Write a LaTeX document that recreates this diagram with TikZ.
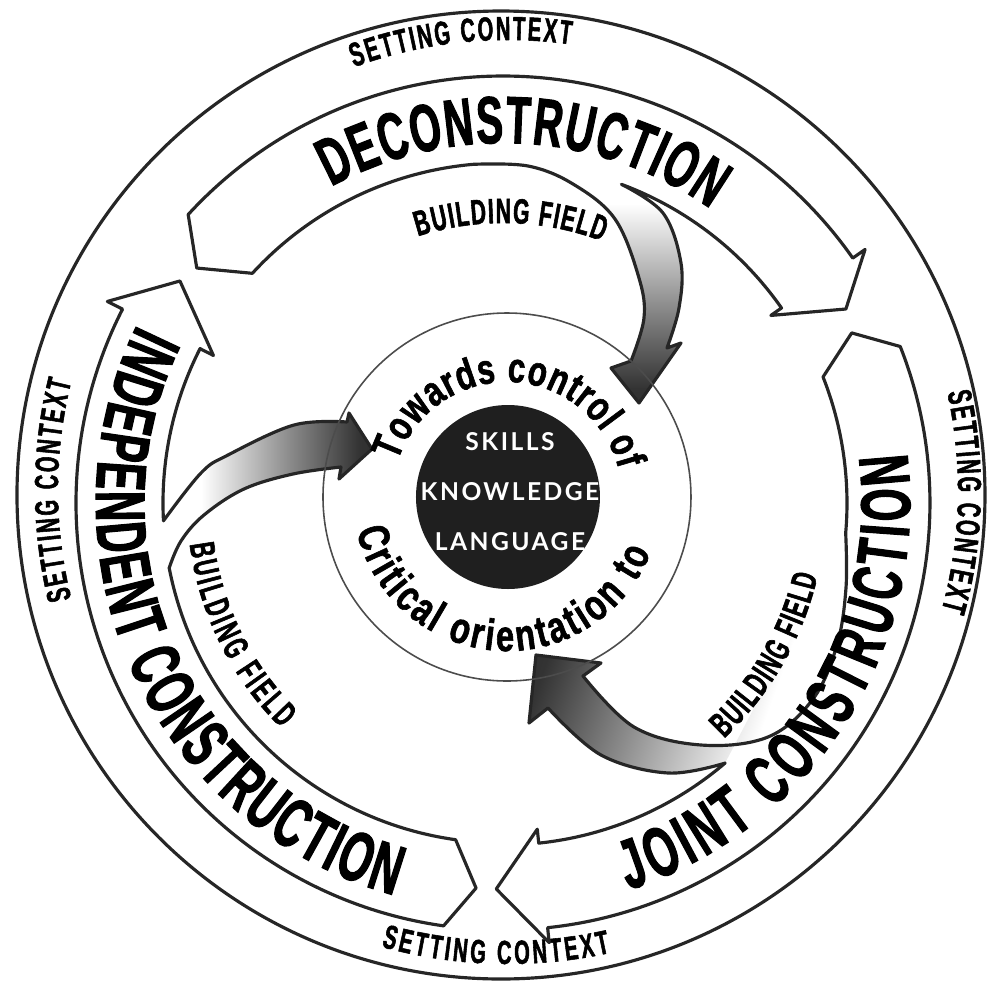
\documentclass[tikz,border=0pt]{standalone}
\usepackage{fontspec}
\usetikzlibrary{decorations.text}
\newfontfamily\bandfont{Liberation Sans Bold}[FakeStretch=0.6, FakeBold=1.6]
\newfontfamily\ringfont{Liberation Sans Bold}[FakeStretch=0.74, FakeBold=1.4]
\newfontfamily\corefont{Lato}[LetterSpace=10]
\pgfdeclarehorizontalshading{hornfade}{100bp}{color(0bp)=(white); color(34bp)=(white); color(55bp)=(black!45); color(72bp)=(black!80); color(100bp)=(black!90)}
\begin{document}
\begin{tikzpicture}[
    ring/.style={line width=0.9pt, draw=black!85, line join=round},
    thinring/.style={line width=0.45pt, draw=black!70},
    bandtext/.style={decorate, decoration={text along path, text align={fit to path}}},
    hornshade/.style={shading=hornfade, shading angle=#1},
    corelabel/.style={text=white, font=\corefont\bfseries\fontsize{7}{8}\selectfont, inner sep=0pt}
]
    \useasboundingbox (-5.02,-4.86) rectangle (4.90,4.97);

    % Circulo externo
    \draw[ring] (-0.01,0.02) circle (4.84);

    % Setting context
    \begin{scope}[shift={(0.06,0.07)}]
        \path[bandtext, decoration={text={|\bandfont\fontsize{9.5}{10}\selectfont|SETTING CONTEXT}}]
            (110:4.50) arc[start angle=110, end angle=82, radius=4.50];
        \path[bandtext, decoration={text={|\bandfont\fontsize{9.5}{10}\selectfont|SETTING CONTEXT}}]
            (12.5:4.50) arc[start angle=12.5, end angle=-15.5, radius=4.50];
        \path[bandtext, decoration={text={|\bandfont\fontsize{9.5}{10}\selectfont|SETTING CONTEXT}}]
            (254.5:4.74) arc[start angle=254.5, end angle=282.5, radius=4.74];
        \path[bandtext, decoration={text={|\bandfont\fontsize{9.5}{10}\selectfont|SETTING CONTEXT}}]
            (194:4.50) arc[start angle=194, end angle=166, radius=4.50];
    \end{scope}

    \begin{scope}[shift={(0.01,-0.06)}]
    % Sombreado dos chifres (building field)
    \shade[hornshade=-90] (69.6:3.40)
        -- plot[smooth, tension=0.6] coordinates {(1.184,3.187) (1.60,2.90) (1.78,2.40) (1.76,1.95) (1.64,1.55)}
        -- (1.78,1.60) -- (1.36,1.00) -- (1.08,1.35)
        -- plot[smooth, tension=0.6] coordinates {(1.28,1.42) (1.41,1.85) (1.36,2.25) (1.12,2.84) (0.70,3.19) (0.25,3.37) (-0.296,3.387)}
        arc[start angle=95, end angle=69.6, radius=3.40] -- cycle;
    \shade[hornshade=160] (-49.5:3.42)
        -- plot[smooth, tension=0.6] coordinates {(2.221,-2.601) (1.65,-2.70) (0.98,-2.52) (0.45,-2.05)}
        -- (0.26,-2.20) -- (0.33,-1.52) -- (0.98,-1.60)
        -- plot[smooth, tension=0.6] coordinates {(0.80,-1.73) (1.31,-2.24) (1.98,-2.42) (2.65,-2.34) (3.10,-1.96) (3.34,-1.42) (3.43,-0.85) (3.427,-0.300)}
        -- cycle;
    \shade[hornshade=0] (183:3.40)
        -- plot[smooth, tension=0.6] coordinates {(-3.395,-0.178) (-3.02,0.30) (-2.75,0.48) (-2.09,0.78) (-1.56,0.81)}
        -- (-1.54,0.90) -- (-1.31,0.54) -- (-1.64,0.24)
        -- plot[smooth, tension=0.6] coordinates {(-1.62,0.36) (-2.10,0.29) (-2.59,0.14) (-2.99,-0.12) (-3.22,-0.38) (-3.338,-0.649)}
        arc[start angle=191, end angle=183, radius=3.40] -- cycle;

    % Deconstruction
    \draw[ring] (137.5:4.27) arc[start angle=137.5, end angle=35, radius=4.27]
        -- (35:4.42) -- (29.5:3.94) -- (35:3.27) -- (35:3.40)
        arc[start angle=35, end angle=69.6, radius=3.40]
        -- plot[smooth, tension=0.6] coordinates {(1.184,3.187) (1.60,2.90) (1.78,2.40) (1.76,1.95) (1.64,1.55)}
        -- (1.78,1.60) -- (1.36,1.00) -- (1.08,1.35)
        -- plot[smooth, tension=0.6] coordinates {(1.28,1.42) (1.41,1.85) (1.36,2.25) (1.12,2.84) (0.70,3.19) (0.25,3.37) (-0.296,3.387)}
        arc[start angle=95, end angle=137.5, radius=3.40]
        -- (142.5:3.86) -- cycle;

    % Joint construction
    \draw[ring] (21.5:4.27) arc[start angle=21.5, end angle=-84, radius=4.27]
        -- (-84:4.42) -- (-91:3.86) -- (-84:3.28) -- (-84:3.42)
        arc[start angle=-84, end angle=-49.5, radius=3.42]
        -- plot[smooth, tension=0.6] coordinates {(2.221,-2.601) (1.65,-2.70) (0.98,-2.52) (0.45,-2.05)}
        -- (0.26,-2.20) -- (0.33,-1.52) -- (0.98,-1.60)
        -- plot[smooth, tension=0.6] coordinates {(0.80,-1.73) (1.31,-2.24) (1.98,-2.42) (2.65,-2.34) (3.10,-1.96) (3.34,-1.42) (3.43,-0.85) (3.427,-0.300)}
        arc[start angle=-5, end angle=21.5, radius=3.44]
        -- (26:3.88) -- cycle;

    % Independent construction
    \draw[ring] (262:4.27) arc[start angle=262, end angle=153, radius=4.27]
        -- (153:4.44) -- (145.5:3.92) -- (153:3.25) -- (153:3.40)
        arc[start angle=153, end angle=183, radius=3.40]
        -- plot[smooth, tension=0.6] coordinates {(-3.395,-0.178) (-3.02,0.30) (-2.75,0.48) (-2.09,0.78) (-1.56,0.81)}
        -- (-1.54,0.90) -- (-1.31,0.54) -- (-1.64,0.24)
        -- plot[smooth, tension=0.6] coordinates {(-1.62,0.36) (-2.10,0.29) (-2.59,0.14) (-2.99,-0.12) (-3.22,-0.38) (-3.338,-0.649)}
        arc[start angle=191, end angle=262, radius=3.40]
        -- (266:3.86) -- cycle;

    % Textos das faixas
    \path[bandtext, decoration={text={|\bandfont\fontsize{19}{20}\selectfont|DECONSTRUCTION}}]
        (118.5:3.60) arc[start angle=118.5, end angle=54.8, radius=3.60];
    \path[bandtext, decoration={text={|\bandfont\fontsize{20}{21}\selectfont|JOINT CONSTRUCTION}}]
        (-72:4.07) arc[start angle=-72, end angle=7, radius=4.07];
    \path[bandtext, decoration={text={|\bandfont\fontsize{20}{21}\selectfont|INDEPENDENT CONSTRUCTION}}]
        (154:4.07) arc[start angle=154, end angle=254.5, radius=4.07];

    % Building field
    \path[bandtext, decoration={text={|\bandfont\fontsize{10}{11}\selectfont|BUILDING FIELD}}]
        (107.7:2.80) arc[start angle=107.7, end angle=69.2, radius=2.80];
    \path[bandtext, decoration={text={|\bandfont\fontsize{10}{11}\selectfont|BUILDING FIELD}}]
        (187.5:3.16) arc[start angle=187.5, end angle=225.5, radius=3.16];
    \path[bandtext, decoration={text={|\bandfont\fontsize{10}{11}\selectfont|BUILDING FIELD}}]
        (-46.8:3.23) arc[start angle=-46.8, end angle=-13, radius=3.23];
    \end{scope}

    % Circulo interno
    \begin{scope}[shift={(0.05,0)}]
        \draw[thinring] (0,0) circle (1.84);
        \path[bandtext, decoration={text={|\ringfont\fontsize{12}{13}\selectfont|Towards control of}}]
            (162:1.15) arc[start angle=162, end angle=14, radius=1.15];
        \path[bandtext, decoration={text={|\ringfont\fontsize{12.5}{14}\selectfont|Critical orientation to}}]
            (192.5:1.54) arc[start angle=192.5, end angle=339, radius=1.54];
        \fill[black!88] (0.01,0) circle (0.92);
        \node[corelabel] (skills) at (0.03,0.55) {SKILLS};
        \node[corelabel] (knowledge) at (0.03,0.05) {KNOWLEDGE};
        \node[corelabel] (language) at (0.03,-0.45) {LANGUAGE};
    \end{scope}
\end{tikzpicture}
\end{document}
